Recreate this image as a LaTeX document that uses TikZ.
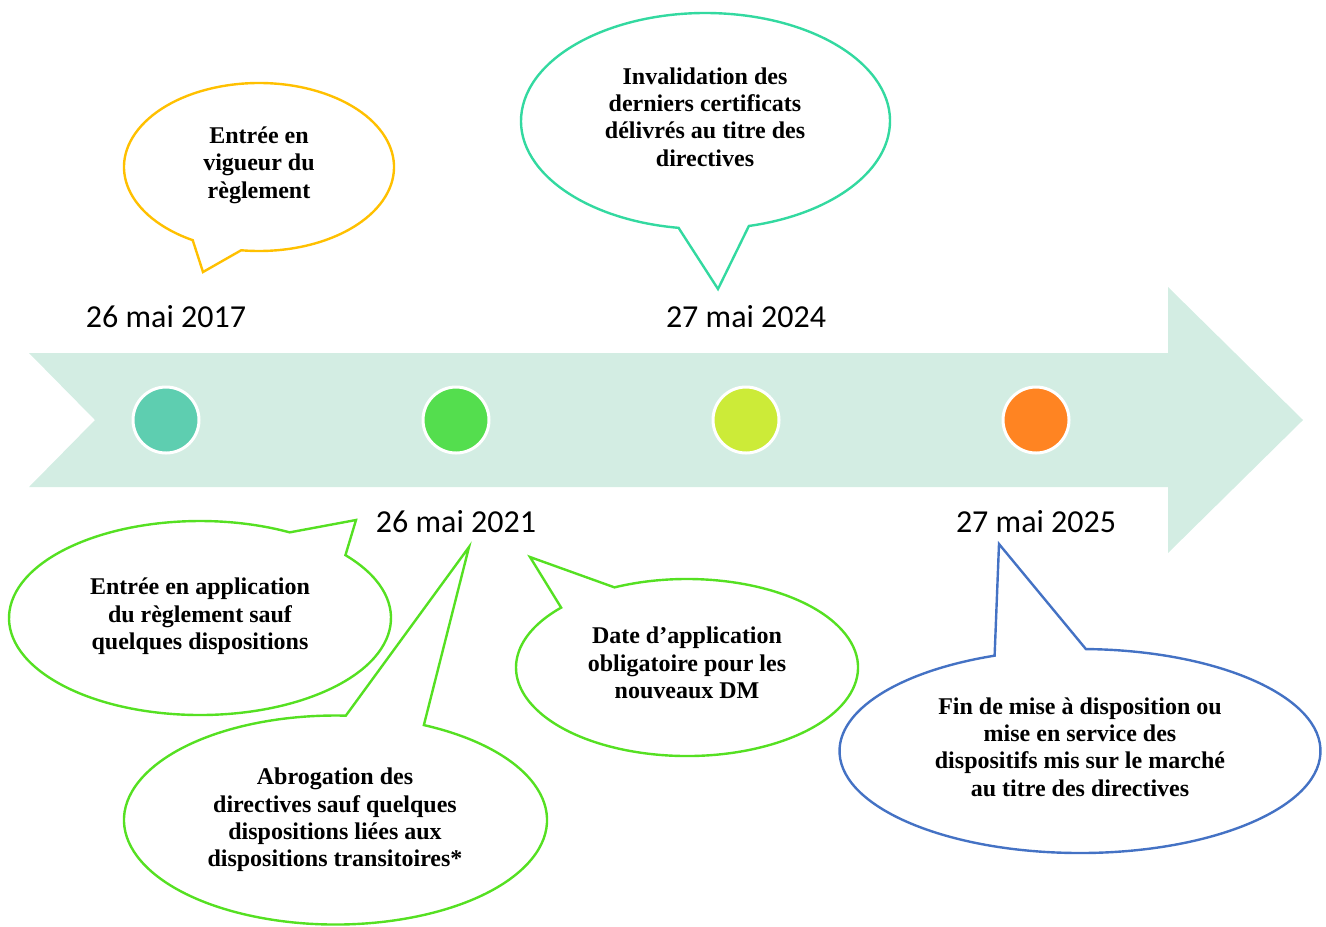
\documentclass[tikz,border=0pt]{standalone}
\usepackage{fontspec}
\usetikzlibrary{calc}
\setmainfont{Liberation Serif}
\newfontfamily\datefont{Carlito}
\definecolor{bande}{HTML}{D3EDE3}
\definecolor{jaune}{HTML}{FFC000}
\definecolor{turquoise}{HTML}{33D9A0}
\definecolor{vert}{HTML}{55E022}
\definecolor{bleu}{HTML}{4472C4}
\definecolor{pointA}{HTML}{5ECEB0}
\definecolor{pointB}{HTML}{54DE4E}
\definecolor{pointC}{HTML}{CCEB38}
\definecolor{pointD}{HTML}{FF8422}
\begin{document}
\begin{tikzpicture}[x=0.75pt, y=-0.75pt,
    bulle/.style={line width=1.8pt, line join=miter},
    texte/.style={align=center, font=\fontsize{18}{20.6}\selectfont\bfseries},
    date/.style={font=\datefont\fontsize{24}{28}\selectfont},
    point/.style={circle, draw=white, line width=2.25pt, minimum size=49.5pt, inner sep=0pt}]
    \useasboundingbox (0,0) rectangle (1326,926);
    % la frise
    \fill[bande] (29,353) -- (1168,353) -- (1168,287) -- (1303,420) -- (1168,553) -- (1168,487) -- (29,487) -- (95,420) -- cycle;
    \node[point, fill=pointA] (p1) at (166,420) {};
    \node[point, fill=pointB] (p2) at (456,420) {};
    \node[point, fill=pointC] (p3) at (746,420) {};
    \node[point, fill=pointD] (p4) at (1036,420) {};
    \node[date] (d1) at (166,317) {26 mai 2017};
    \node[date] (d3) at (746,317) {27 mai 2024};
    \node[date] (d2) at (456,522) {26 mai 2021};
    \node[date] (d4) at (1036,522) {27 mai 2025};
    % les bulles
    \draw[bulle, jaune] ($(259,167)+(119.4:135 and 84)$) arc[start angle=119.4, end angle=457.6, x radius=135, y radius=84] -- (203,272) -- cycle;
    \draw[bulle, turquoise] ($(705.5,121)+(98.4:184.5 and 108)$) arc[start angle=98.4, end angle=436.4, x radius=184.5, y radius=108] -- (718,289) -- cycle;
    \draw[bulle, vert] ($(200,618)+(-40.4:191 and 97)$) arc[start angle=-40.4, end angle=298, x radius=191, y radius=97] -- (356,520) -- cycle;
    \draw[bulle, vert] ($(335.5,820)+(-65.3:211.5 and 104.5)$) arc[start angle=-65.3, end angle=272.8, x radius=211.5, y radius=104.5] -- (469,547) -- cycle;
    \draw[bulle, vert] ($(687,667.5)+(244.9:171 and 88.5)$) arc[start angle=244.9, end angle=582.6, x radius=171, y radius=88.5] -- (530,557) -- cycle;
    \draw[bulle, bleu] ($(1080,751)+(271.4:240.5 and 102)$) arc[start angle=271.4, end angle=609.2, x radius=240.5, y radius=102] -- (999,544) -- cycle;
    \node[texte] (b1) at (259,165) {Entrée en\\vigueur du\\règlement};
    \node[texte] (b2) at (705,117) {Invalidation des\\derniers certificats\\délivrés au titre des\\directives};
    \node[texte] (b3) at (200,616.5) {Entrée en application\\du règlement sauf\\quelques dispositions};
    \node[texte] (b4) at (335,820) {Abrogation des\\directives sauf quelques\\dispositions liées aux\\dispositions transitoires*};
    \node[texte] (b5) at (687,663) {Date d’application\\obligatoire pour les\\nouveaux DM};
    \node[texte] (b6) at (1080,747) {Fin de mise à disposition ou\\mise en service des\\dispositifs mis sur le marché\\au titre des directives};
\end{tikzpicture}
\end{document}
